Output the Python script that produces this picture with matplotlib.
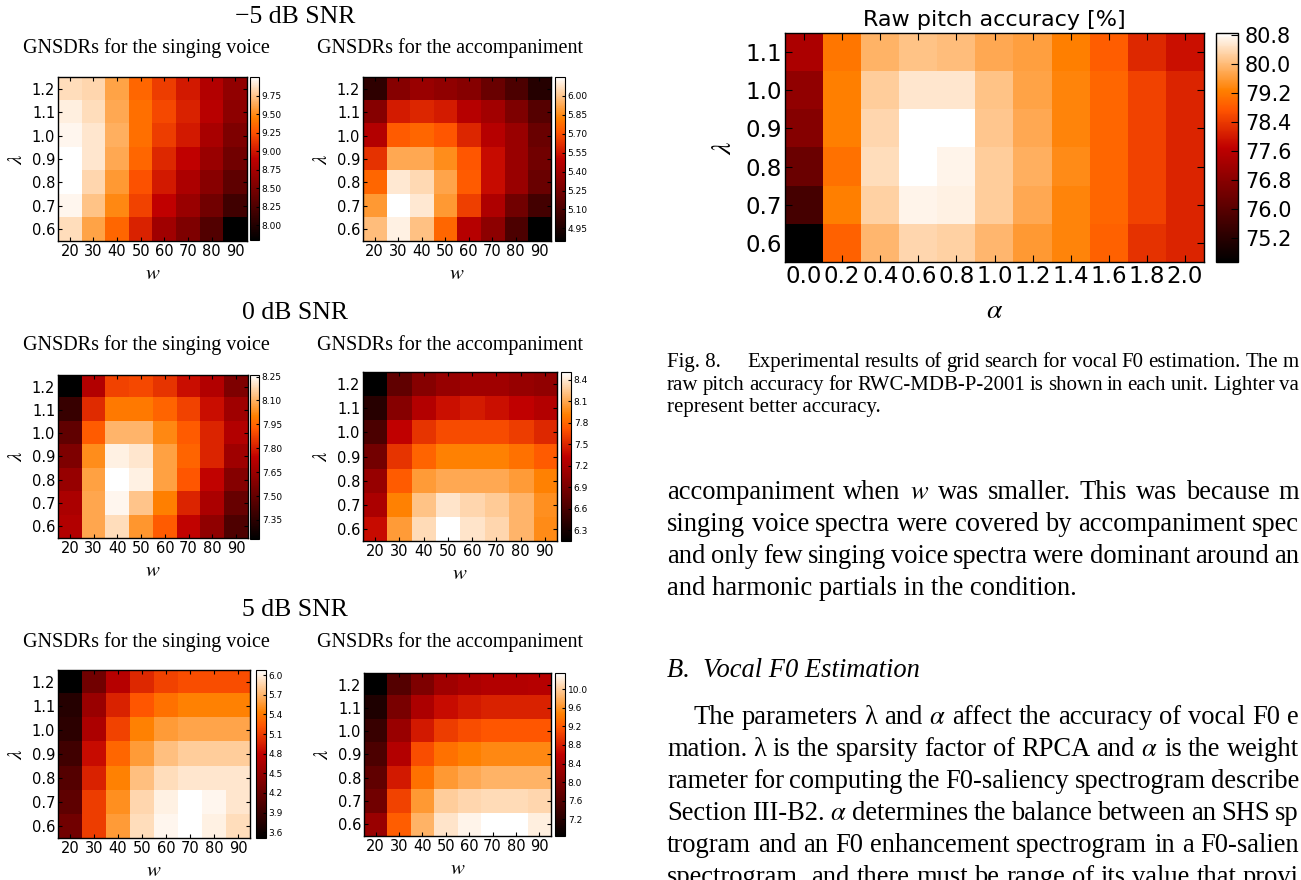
import numpy as np
import matplotlib
matplotlib.use("Agg")
import matplotlib.pyplot as plt

# ---------------- data ----------------
lambda_small = [1.2, 1.1, 1.0, 0.9, 0.8, 0.7, 0.6]   # top -> bottom
w_values = [20, 30, 40, 50, 60, 70, 80, 90]

voice_m5 = [
    [9.85, 9.82, 9.60, 9.34, 9.16, 9.01, 8.83, 8.64],
    [9.93, 9.85, 9.63, 9.38, 9.21, 9.05, 8.86, 8.61],
    [9.96, 9.89, 9.65, 9.38, 9.16, 9.01, 8.77, 8.53],
    [10.00, 9.89, 9.63, 9.34, 9.08, 8.90, 8.68, 8.46],
    [10.00, 9.82, 9.56, 9.25, 9.01, 8.79, 8.59, 8.35],
    [9.96, 9.74, 9.49, 9.19, 8.90, 8.68, 8.46, 8.17],
    [9.85, 9.60, 9.34, 9.05, 8.72, 8.53, 8.28, 7.80]]
accomp_m5 = [
    [5.01, 5.31, 5.37, 5.34, 5.31, 5.21, 5.11, 4.98],
    [5.31, 5.57, 5.60, 5.57, 5.47, 5.40, 5.28, 5.14],
    [5.46, 5.73, 5.76, 5.72, 5.60, 5.47, 5.37, 5.21],
    [5.63, 5.93, 5.93, 5.86, 5.72, 5.53, 5.37, 5.24],
    [5.76, 6.09, 6.05, 5.92, 5.73, 5.53, 5.37, 5.21],
    [5.89, 6.15, 6.09, 5.89, 5.66, 5.44, 5.24, 5.08],
    [5.98, 6.11, 5.99, 5.76, 5.47, 5.33, 5.11, 4.85]]
voice_0 = [
    [7.23, 7.71, 7.88, 7.89, 7.85, 7.77, 7.71, 7.57],
    [7.38, 7.83, 7.99, 7.99, 7.95, 7.88, 7.77, 7.66],
    [7.49, 7.93, 8.11, 8.11, 8.02, 7.93, 7.82, 7.71],
    [7.57, 8.03, 8.23, 8.21, 8.07, 7.95, 7.82, 7.66],
    [7.64, 8.07, 8.26, 8.23, 8.07, 7.92, 7.75, 7.59],
    [7.69, 8.08, 8.24, 8.14, 8.00, 7.82, 7.69, 7.51],
    [7.71, 8.08, 8.19, 8.05, 7.93, 7.75, 7.62, 7.44]]
accomp_0 = [
    [6.15, 6.74, 6.98, 7.09, 7.14, 7.14, 7.09, 7.05],
    [6.39, 6.98, 7.26, 7.40, 7.45, 7.40, 7.33, 7.26],
    [6.62, 7.33, 7.57, 7.68, 7.68, 7.68, 7.61, 7.52],
    [6.86, 7.57, 7.80, 7.92, 7.92, 7.92, 7.85, 7.75],
    [7.09, 7.75, 8.04, 8.11, 8.11, 8.11, 8.04, 7.92],
    [7.21, 7.92, 8.23, 8.39, 8.32, 8.27, 8.16, 7.99],
    [7.38, 8.04, 8.34, 8.51, 8.39, 8.32, 8.16, 7.97]]
voice_5 = [
    [3.51, 4.28, 4.74, 5.00, 5.13, 5.18, 5.18, 5.18],
    [3.77, 4.54, 4.97, 5.23, 5.36, 5.44, 5.44, 5.44],
    [3.82, 4.67, 5.13, 5.44, 5.57, 5.62, 5.62, 5.62],
    [3.95, 4.85, 5.31, 5.57, 5.75, 5.82, 5.82, 5.82],
    [4.08, 4.97, 5.44, 5.75, 5.90, 5.95, 5.95, 5.95],
    [4.15, 5.10, 5.51, 5.87, 6.00, 6.08, 6.03, 5.95],
    [4.28, 5.10, 5.57, 5.90, 6.03, 6.08, 6.00, 5.90]]
accomp_5 = [
    [6.84, 7.61, 8.00, 8.31, 8.42, 8.49, 8.49, 8.52],
    [7.12, 7.96, 8.42, 8.67, 8.77, 8.84, 8.84, 8.84],
    [7.37, 8.24, 8.77, 9.02, 9.12, 9.19, 9.19, 9.19],
    [7.54, 8.49, 9.12, 9.37, 9.47, 9.54, 9.54, 9.54],
    [7.72, 8.77, 9.37, 9.65, 9.75, 9.82, 9.82, 9.82],
    [7.89, 9.05, 9.65, 10.00, 10.07, 10.10, 10.10, 10.07],
    [8.24, 9.23, 9.82, 10.17, 10.28, 10.35, 10.35, 10.24]]

cbar_ticks_voice_m5 = [8.00, 8.25, 8.50, 8.75, 9.00, 9.25, 9.50, 9.75]
cbar_ticks_accomp_m5 = [4.95, 5.10, 5.25, 5.40, 5.55, 5.70, 5.85, 6.00]
cbar_ticks_voice_0 = [7.35, 7.50, 7.65, 7.80, 7.95, 8.10, 8.25]
cbar_ticks_accomp_0 = [6.3, 6.6, 6.9, 7.2, 7.5, 7.8, 8.1, 8.4]
cbar_ticks_voice_5 = [3.6, 3.9, 4.2, 4.5, 4.8, 5.1, 5.4, 5.7, 6.0]
cbar_ticks_accomp_5 = [7.2, 7.6, 8.0, 8.4, 8.8, 9.2, 9.6, 10.0]

lambda_big = [1.1, 1.0, 0.9, 0.8, 0.7, 0.6]   # top -> bottom
alpha_values = [0.0, 0.2, 0.4, 0.6, 0.8, 1.0, 1.2, 1.4, 1.6, 1.8, 2.0]
pitch_acc = [
    [77.38, 79.15, 79.90, 80.09, 80.03, 79.78, 79.65, 79.27, 78.83, 78.20, 77.88],
    [76.94, 79.27, 80.22, 80.53, 80.53, 80.09, 79.71, 79.34, 78.96, 78.52, 78.14],
    [76.75, 79.27, 80.35, 80.85, 80.85, 80.15, 79.78, 79.34, 78.96, 78.52, 78.14],
    [76.31, 79.08, 80.41, 80.85, 80.72, 80.22, 79.84, 79.40, 78.96, 78.52, 78.14],
    [75.68, 79.27, 80.28, 80.72, 80.66, 80.22, 79.78, 79.34, 78.96, 78.52, 78.14],
    [74.54, 78.90, 79.96, 80.35, 80.28, 79.96, 79.59, 79.34, 78.90, 78.33, 78.14]]
cbar_ticks_pitch = [75.2, 76.0, 76.8, 77.6, 78.4, 79.2, 80.0, 80.8]

snr_titles = ["\u22125 dB SNR", "0 dB SNR", "5 dB SNR"]
sub_voice = "GNSDRs for the singing voice"
sub_acc = "GNSDRs for the accompaniment"

caption_label = "Fig. 8."
caption_lines = [
    "Experimental results of grid search for vocal F0 estimation. The m",
    "raw pitch accuracy for RWC-MDB-P-2001 is shown in each unit. Lighter va",
    "represent better accuracy.",
]
body1_lines = [
    "accompaniment when $w$ was smaller. This was because m",
    "singing voice spectra were covered by accompaniment spec",
    "and only few singing voice spectra were dominant around an",
    "and harmonic partials in the condition.",
]
section_title = "B.  Vocal F0 Estimation"
body2_lines = [
    "The parameters \u03bb and $\\alpha$ affect the accuracy of vocal F0 e",
    "mation. \u03bb is the sparsity factor of RPCA and $\\alpha$ is the weight",
    "rameter for computing the F0-saliency spectrogram describe",
    "Section III-B2. $\\alpha$ determines the balance between an SHS sp",
    "trogram and an F0 enhancement spectrogram in a F0-salien",
    "spectrogram, and there must be range of its value that provi",
]

# ---------------- style ----------------
plt.rcParams.update({
    "font.family": ["DejaVu Sans"],
    "mathtext.fontset": "stix",
    "xtick.direction": "in", "ytick.direction": "in",
    "xtick.top": True, "ytick.right": True,
    "xtick.major.size": 4, "ytick.major.size": 4,
    "xtick.major.width": 0.8, "ytick.major.width": 0.8,
    "axes.linewidth": 1.0,
})

W, H = 1301, 880
fig = plt.figure(figsize=(W / 100, H / 100), dpi=100)
fig.patch.set_facecolor("white")
renderer = fig.canvas.get_renderer()


def rect(l, t, r, b):
    return [l / W, 1 - b / H, (r - l) / W, (b - t) / H]


SERIF = ["Liberation Serif", "DejaVu Serif"]
cmap = plt.get_cmap("gist_heat")


def small_panel(data, ticks, fmt, ax_box, cb_box):
    ax = fig.add_axes(rect(*ax_box))
    im = ax.imshow(np.array(data), cmap=cmap, interpolation="nearest",
                   origin="upper", aspect="auto",
                   extent=[w_values[0] - 5, w_values[-1] + 5,
                           lambda_small[-1] - 0.05, lambda_small[0] + 0.05])
    ax.set_xticks(w_values)
    ax.set_xticklabels([str(v) for v in w_values])
    ax.set_yticks(lambda_small)
    ax.set_yticklabels(["%.1f" % v for v in lambda_small])
    ax.tick_params(labelsize=10.5, pad=2, length=3)
    ax.set_xlabel("$w$", fontsize=15, labelpad=3)
    ax.set_ylabel("$\\lambda$", fontsize=15, labelpad=4)
    cax = fig.add_axes(rect(*cb_box))
    cb = fig.colorbar(im, cax=cax, ticks=ticks, format=fmt)
    cb.ax.tick_params(labelsize=6.5, direction="in", length=2.5, pad=2)
    cb.outline.set_linewidth(0.8)
    return ax


panels = [
    (voice_m5, cbar_ticks_voice_m5, "%.2f", (58, 77, 247, 241), (250, 77, 259, 240)),
    (accomp_m5, cbar_ticks_accomp_m5, "%.2f", (363, 77, 551, 241), (555, 77, 565, 241)),
    (voice_0, cbar_ticks_voice_0, "%.2f", (58, 375, 248, 538), (250, 375, 259, 539)),
    (accomp_0, cbar_ticks_accomp_0, "%.1f", (363, 372, 557, 541), (561, 372, 571, 541)),
    (voice_5, cbar_ticks_voice_5, "%.1f", (58, 670, 250, 838), (256, 670, 266, 838)),
    (accomp_5, cbar_ticks_accomp_5, "%.1f", (364, 673, 551, 836), (555, 673, 565, 836)),
]
for p in panels:
    small_panel(*p)

# titles of the left block
for title, ty, sy in zip(snr_titles, [17, 313, 610], [48, 345, 642]):
    fig.text(295 / W, 1 - ty / H, title, family=SERIF, fontsize=18.5,
             ha="center", va="center")
    fig.text(146 / W, 1 - sy / H, sub_voice, family=SERIF, fontsize=14.5,
             ha="center", va="center")
    fig.text(450 / W, 1 - sy / H, sub_acc, family=SERIF, fontsize=14.5,
             ha="center", va="center")

# big panel
axb = fig.add_axes(rect(785, 33, 1204, 262))
imb = axb.imshow(np.array(pitch_acc), cmap=cmap, interpolation="nearest",
                 origin="upper", aspect="auto",
                 extent=[alpha_values[0] - 0.1, alpha_values[-1] + 0.1,
                         lambda_big[-1] - 0.05, lambda_big[0] + 0.05])
axb.set_xticks(alpha_values)
axb.set_xticklabels(["%.1f" % v for v in alpha_values])
axb.set_yticks(lambda_big)
axb.set_yticklabels(["%.1f" % v for v in lambda_big])
axb.tick_params(labelsize=16.5, pad=2, length=5)
axb.set_title("Raw pitch accuracy [%]", fontsize=16, pad=5)
axb.set_xlabel("$\\alpha$", fontsize=20, labelpad=6)
axb.set_ylabel("$\\lambda$", fontsize=20, labelpad=6)
caxb = fig.add_axes(rect(1216, 33, 1238, 262))
cbb = fig.colorbar(imb, cax=caxb, ticks=cbar_ticks_pitch, format="%.1f")
cbb.ax.tick_params(labelsize=15, direction="in", length=5, pad=5)


# ---------------- page text (justified lines) ----------------
def text_line(s, x_left, y_base, size, right=None, style="normal"):
    """Place a line of text; if right is given, spread words to reach it."""
    if right is None:
        fig.text(x_left / W, 1 - y_base / H, s, family=SERIF, fontsize=size,
                 style=style, ha="left", va="baseline")
        return
    words = s.split(" ")
    objs = [fig.text(0, 0, wd, family=SERIF, fontsize=size, style=style,
                     ha="left", va="baseline") for wd in words]
    widths = [o.get_window_extent(renderer).width for o in objs]
    gap = (right - x_left - sum(widths)) / max(len(words) - 1, 1)
    x = x_left
    for o, wdt in zip(objs, widths):
        o.set_position((x / W, 1 - y_base / H))
        x += wdt + gap


RIGHT = 1299
X0 = 667
CAP = 15
BODY = 19.1

text_line(caption_label, X0, 367, CAP)
text_line(caption_lines[0], 747, 367, CAP, right=RIGHT)
text_line(caption_lines[1], X0, 389.5, CAP, right=RIGHT)
text_line(caption_lines[2], X0, 412, CAP)

for i, line in enumerate(body1_lines):
    text_line(line, X0, 499 + 32 * i, BODY, right=RIGHT if i < 3 else None)

text_line(section_title, X0, 677, BODY, style="italic")
for i, line in enumerate(body2_lines):
    text_line(line, 693 if i == 0 else X0, 724 + 32 * i, BODY, right=RIGHT)

fig.savefig("out.png", dpi=100, facecolor="white")
